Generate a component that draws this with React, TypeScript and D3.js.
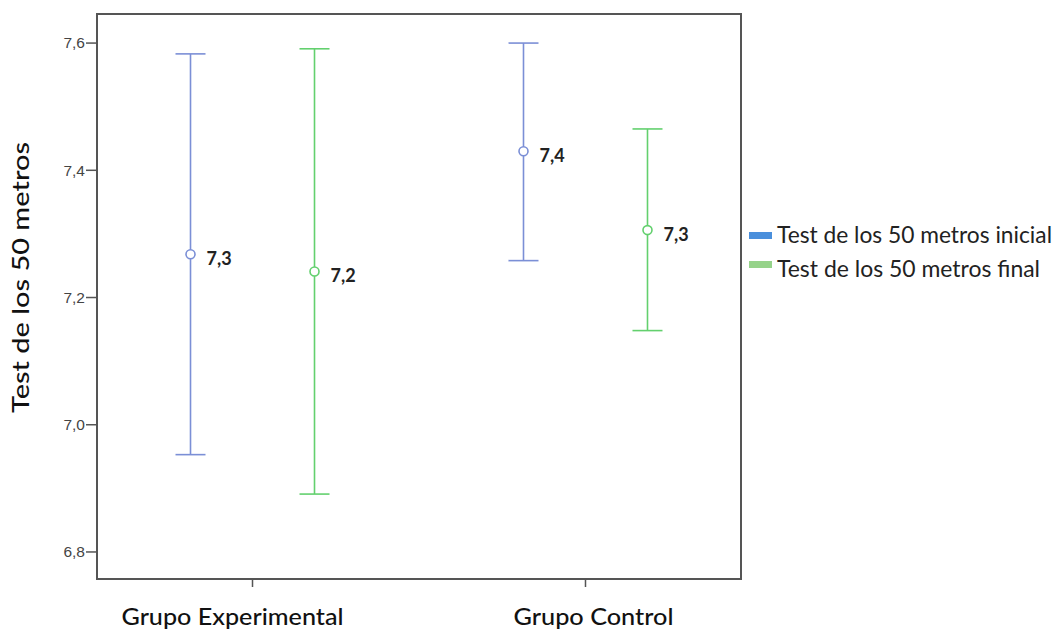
import React from "react";
import * as d3 from "d3";

const groups = ["Grupo Experimental", "Grupo Control"];
const series = ["Test de los 50 metros inicial", "Test de los 50 metros final"];
const means = [
  [7.268, 7.241],
  [7.43, 7.306],
];
const lowers = [
  [6.953, 6.891],
  [7.258, 7.148],
];
const uppers = [
  [7.583, 7.591],
  [7.6, 7.465],
];
const meanLabels = [
  ["7,3", "7,2"],
  ["7,4", "7,3"],
];
const yTicks = [6.8, 7.0, 7.2, 7.4, 7.6];
const lineColors = ["#7b8fd6", "#63d06e"];
const swatchColors = ["#4a8fdc", "#96d38a"];

export default function App() {
  const W = 1056, H = 632;
  const left = 97, right = 741, top = 14, bottom = 579;
  const y = d3.scaleLinear().domain([6.7575, 7.6457]).range([bottom, top]);
  const x = d3.scalePoint<string>().domain(groups).range([left, right]).padding(0.467);
  const off = d3.scalePoint<string>().domain(series).range([-62, 62]);
  const fmt = (v: number) => d3.format(".1f")(v).replace(".", ",");
  const labelShift = [-20, 8];
  const labelLen = [222, 160];
  const legendLen = [275, 263];
  return (
    <svg width={W} height={H} style={{ position: "absolute", left: 0, top: 0 }}>
      <rect width={W} height={H} fill="#fff" />
      <rect x={left} y={top} width={right - left} height={bottom - top} fill="none" stroke="#555" strokeWidth={2} />
      {yTicks.map((t) => (
        <g key={t}>
          <line x1={left - 11} x2={left} y1={y(t)} y2={y(t)} stroke="#555" strokeWidth={1.5} />
          <text x={left - 12} y={y(t)} dy="0.35em" textAnchor="end" fontFamily="Liberation Sans, Arial" fontSize={15.5} fill="#444">
            {fmt(t)}
          </text>
        </g>
      ))}
      {groups.map((g, i) => (
        <g key={g}>
          <line x1={x(g)!} x2={x(g)!} y1={bottom} y2={bottom + 8} stroke="#555" strokeWidth={1.5} />
          <text
            x={x(g)! + labelShift[i]}
            y={625}
            textAnchor="middle"
            fontFamily="Lato"
            fontWeight={500}
            fontSize={23.5}
            textLength={labelLen[i]}
            lengthAdjust="spacingAndGlyphs"
            fill="#111"
          >
            {g}
          </text>
        </g>
      ))}
      <text
        transform={`translate(29,277.5) rotate(-90)`}
        textAnchor="middle"
        fontFamily="Lato"
        fontWeight={500}
        fontSize={23.5}
        textLength={271}
        lengthAdjust="spacingAndGlyphs"
        fill="#111"
      >
        Test de los 50 metros
      </text>
      {groups.map((g, gi) =>
        series.map((s, si) => {
          const cx = x(g)! + off(s)!;
          const c = lineColors[si];
          return (
            <g key={g + s}>
              <line x1={cx} x2={cx} y1={y(uppers[gi][si])} y2={y(lowers[gi][si])} stroke={c} strokeWidth={1.6} />
              <line x1={cx - 15} x2={cx + 15} y1={y(uppers[gi][si])} y2={y(uppers[gi][si])} stroke={c} strokeWidth={1.6} />
              <line x1={cx - 15} x2={cx + 15} y1={y(lowers[gi][si])} y2={y(lowers[gi][si])} stroke={c} strokeWidth={1.6} />
              <circle cx={cx} cy={y(means[gi][si])} r={4.5} fill="#fff" stroke={c} strokeWidth={1.6} />
              <text x={cx + 16} y={y(means[gi][si]) + 11} fontFamily="Lato" fontWeight="bold" fontSize={18} fill="#222">
                {meanLabels[gi][si]}
              </text>
            </g>
          );
        })
      )}
      {series.map((s, si) => (
        <g key={s}>
          <rect x={749} y={232 + si * 29} width={23} height={7} fill={swatchColors[si]} />
          <text
            x={777}
            y={243 + si * 33.5}
            fontFamily="Lato"
            fontSize={22.5}
            textLength={legendLen[si]}
            lengthAdjust="spacingAndGlyphs"
            fill="#222"
          >
            {s}
          </text>
        </g>
      ))}
    </svg>
  );
}
